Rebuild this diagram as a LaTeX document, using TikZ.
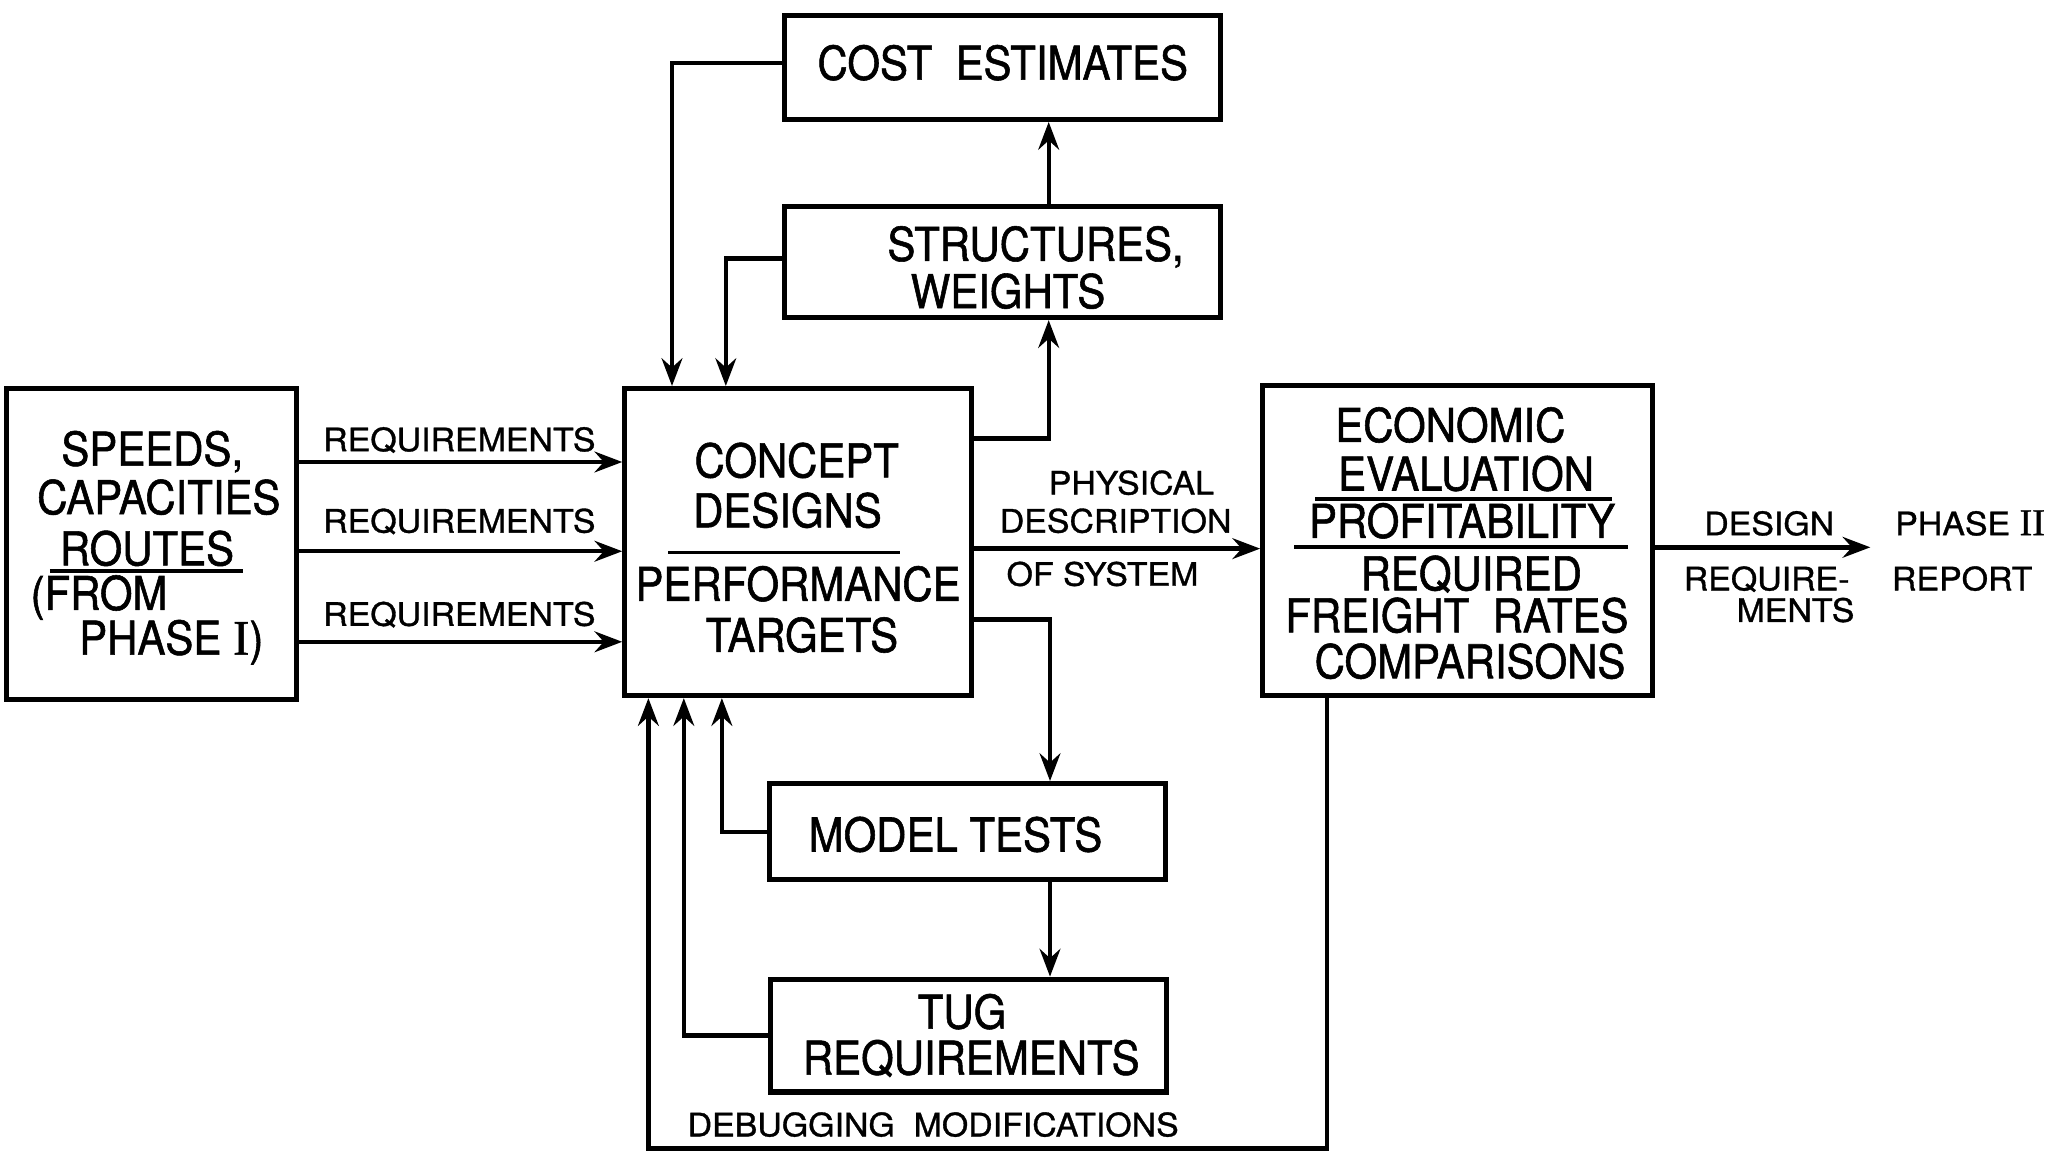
\documentclass[tikz,border=0pt]{standalone}
\usepackage{fontspec}
\setmainfont{TeX Gyre Heros}
\newfontfamily\boxfont{TeX Gyre Heros}[FakeStretch=0.9, FakeBold=1.2]
\newfontfamily\lblfont{TeX Gyre Heros}[FakeStretch=1.05, FakeBold=1.0]
\newfontfamily\numfont{Liberation Serif}[FakeBold=1.0]
\usetikzlibrary{arrows.meta}

\begin{document}
\begin{tikzpicture}[x=0.02cm, y=-0.02cm,
  blockbox/.style={draw, line width=2.2pt, inner sep=0pt},
  boxtext/.style={font=\boxfont\fontsize{20.2}{24}\selectfont, inner sep=0pt,
                  text height=14.5pt, text depth=0pt},
  flowlabel/.style={font=\lblfont\fontsize{14}{16}\selectfont, inner sep=0pt,
                    text height=10pt, text depth=0pt},
  conn/.style={line width=1.9pt, -{Stealth[length=12pt, width=9pt, inset=4pt]}},
  rule/.style={line width=1.6pt}]

\useasboundingbox (0,0) rectangle (1568,881);
\fill[white] (0,0) rectangle (1568,881);

% ---- blocks ----
\node[blockbox, minimum width=4.42cm, minimum height=4.74cm] (speeds)  at (115.5,414.5) {};
\node[blockbox, minimum width=5.28cm, minimum height=4.68cm] (concept) at (608,413) {};
\node[blockbox, minimum width=6.64cm, minimum height=1.58cm] (cost)    at (764,51.5) {};
\node[blockbox, minimum width=6.64cm, minimum height=1.70cm] (struct)  at (764,199.5) {};
\node[blockbox, minimum width=5.94cm, minimum height=4.72cm] (econ)    at (1110.5,412) {};
\node[blockbox, minimum width=6.04cm, minimum height=1.46cm] (model)   at (737,633.5) {};
\node[blockbox, minimum width=6.04cm, minimum height=1.72cm] (tug)     at (738,789) {};

% ---- block texts ----
\node[boxtext] (spA) at (116,342) {SPEEDS,};
\node[boxtext] (spB) at (121,379) {CAPACITIES};
\node[boxtext] (spC) at (112,418) {ROUTES};
\node[boxtext, anchor=west] (spD) at (23,452) {(FROM};
\node[boxtext, anchor=west] (spE) at (60,486) {PHASE\ {\numfont\fontsize{21.5}{24}\selectfont I})};
\draw[rule] (38,435) -- (185,435);

\node[boxtext] (cdA) at (607,351) {CONCEPT};
\node[boxtext] (cdB) at (600,389) {DESIGNS};
\draw[rule] (509,421) -- (686,421);
\node[boxtext] (cdC) at (608,445) {PERFORMANCE};
\node[boxtext] (cdD) at (611,484) {TARGETS};

\node[boxtext] (ceA) at (764,48) {COST\ \ ESTIMATES};

\node[boxtext] (swA) at (789,186) {STRUCTURES,};
\node[boxtext] (swB) at (768,222) {WEIGHTS};

\node[boxtext] (evA) at (1105,324) {ECONOMIC};
\node[boxtext] (evB) at (1117,361) {EVALUATION};
\draw[rule] (1002,380) -- (1228,380);
\node[boxtext] (evC) at (1114,397) {PROFITABILITY};
\draw[rule] (986,417) -- (1240,417);
\node[boxtext] (evD) at (1121,437) {REQUIRED};
\node[boxtext] (evE) at (1110,469) {FREIGHT\ \ RATES};
\node[boxtext] (evF) at (1120,504) {COMPARISONS};

\node[boxtext] (mtA) at (728,636) {MODEL TESTS};

\node[boxtext] (tgA) at (733,771) {TUG};
\node[boxtext] (tgB) at (740,806) {REQUIREMENTS};

% ---- connector routing points ----
\coordinate (rqA) at (0,352);
\coordinate (rqB) at (0,420);
\coordinate (rqC) at (0,489);
\coordinate (upx) at (799,334);
\coordinate (dnx) at (800,472);
\coordinate (cfb) at (512,48);
\coordinate (sfb) at (553,197);
\coordinate (mfb) at (550,634);
\coordinate (tfb) at (521,789);
\coordinate (dbgx) at (1011,0);
\coordinate (dbgc) at (494,875);
\coordinate (phys) at (0,418);
\coordinate (dsgn) at (1425,417);

% ---- connectors ----
\draw[conn] (speeds.east |- rqA) -- (concept.west |- rqA);
\draw[conn] (speeds.east |- rqB) -- (concept.west |- rqB);
\draw[conn] (speeds.east |- rqC) -- (concept.west |- rqC);

\draw[conn] (concept.east |- upx) -| (struct.south -| upx);
\draw[conn] (struct.north -| upx) -- (cost.south -| upx);
\draw[conn] (concept.east |- dnx) -| (model.north -| dnx);
\draw[conn] (model.south -| dnx) -- (tug.north -| dnx);

\draw[conn] (cost.west |- cfb) -| (concept.north -| cfb);
\draw[conn] (struct.west |- sfb) -| (concept.north -| sfb);
\draw[conn] (model.west |- mfb) -| (concept.south -| mfb);
\draw[conn] (tug.west |- tfb) -| (concept.south -| tfb);
\draw[conn] (econ.south -| dbgx) |- (dbgc) -- (concept.south -| dbgc);

\draw[conn] (concept.east |- phys) -- (econ.west |- phys);
\draw[conn] (econ.east |- dsgn) -- (dsgn);

% ---- connector labels ----
\node[flowlabel] (lqA) at (350,335) {REQUIREMENTS};
\node[flowlabel] (lqB) at (350,397) {REQUIREMENTS};
\node[flowlabel] (lqC) at (350,468) {REQUIREMENTS};

\node[flowlabel] (lpA) at (862,368) {PHYSICAL};
\node[flowlabel] (lpB) at (850,397) {DESCRIPTION};
\node[flowlabel] (lpC) at (840,437.5) {OF SYSTEM};

\node[flowlabel] (ldb) at (711,857) {DEBUGGING\ \ MODIFICATIONS};

\node[flowlabel] (ldA) at (1348,399) {DESIGN};
\node[flowlabel] (ldB) at (1346,441) {REQUIRE-};
\node[flowlabel] (ldC) at (1368,465) {MENTS};
\node[flowlabel] (lrA) at (1501,399) {PHASE\ {\numfont\fontsize{16.5}{18}\selectfont II}};
\node[flowlabel] (lrB) at (1495,441) {REPORT};

\end{tikzpicture}
\end{document}
